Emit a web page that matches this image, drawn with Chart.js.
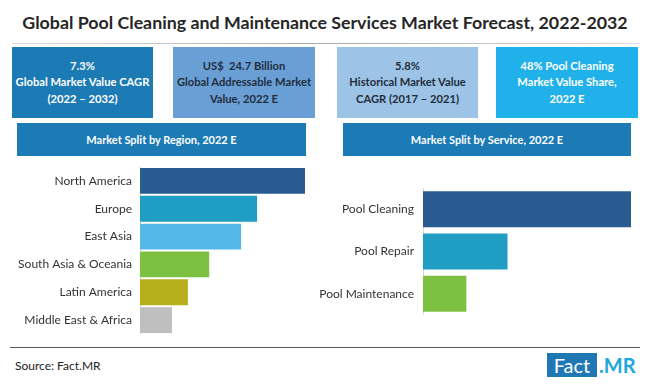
<!DOCTYPE html>
<html>
<head>
<meta charset="utf-8">
<script src="https://cdn.jsdelivr.net/npm/chart.js@4.4.0/dist/chart.umd.min.js"></script>
<style>
  body { margin: 0; width: 650px; height: 385px; background: #fff; position: relative; overflow: hidden; font-family: Lato, "Open Sans", sans-serif; }
  .abs { position: absolute; }
  #title { left: 0; top: 11px; width: 650px; text-align: center; font-size: 17.8px; font-weight: bold; color: #262626; }
  #rule { left: 12px; top: 43px; width: 628px; height: 1px; background: linear-gradient(to right, #ddd, #aaa 50%, #ddd); }
  .box { top: 47px; height: 71px; color: #fff; font-weight: bold; font-size: 11.2px; line-height: 16.5px; display: flex; align-items: center; justify-content: center; text-align: center; }
  .head { top: 123px; height: 33px; background: #1c7ab5; color: #fff; font-weight: bold; font-size: 11px; display: flex; align-items: center; justify-content: center; }
  #foot { left: 10px; top: 347px; width: 630px; height: 1px; background: #555; }
  #src { left: 15px; top: 358px; font-size: 12px; color: #222; }
  #logo1 { left: 547px; top: 353px; width: 50px; height: 24px; background: #1f78b4; color: #fff; font-size: 20px; line-height: 24px; text-align: center; }
  #logo2 { left: 599px; top: 353px; height: 24px; color: #22a6df; font-size: 20px; font-weight: bold; line-height: 24px; }
</style>
</head>
<body>
<div id="title" class="abs">Global Pool Cleaning and Maintenance Services Market Forecast, 2022-2032</div>
<div id="rule" class="abs"></div>

<div class="abs box" style="left:12px;width:141px;background:#1c7ab5;">7.3%<br>Global Market Value CAGR<br>(2022 – 2032)</div>
<div class="abs box" style="left:173px;width:142px;background:#6a9fd5;color:#1f2d3d;">US$&nbsp; 24.7 Billion<br>Global Addressable Market<br>Value, 2022 E</div>
<div class="abs box" style="left:337px;width:141px;background:#9dc3e6;color:#1f2d3d;">5.8%<br>Historical Market Value<br>CAGR (2017 – 2021)</div>
<div class="abs box" style="left:496px;width:142px;background:#21b1ea;">48% Pool Cleaning<br>Market Value Share,<br>2022 E</div>

<div class="abs head" style="left:17px;width:289px;">Market Split by Region, 2022 E</div>
<div class="abs head" style="left:343px;width:288px;">Market Split by Service, 2022 E</div>

<div class="abs" style="left:10px;top:167px;width:295px;height:167px;"><canvas id="regionChart"></canvas></div>
<div class="abs" style="left:310px;top:188px;width:321px;height:127px;"><canvas id="serviceChart"></canvas></div>

<div id="foot" class="abs"></div>
<div id="src" class="abs">Source: Fact.MR</div>
<div id="logo1" class="abs">Fact</div>
<div id="logo2" class="abs">.MR</div>

<script>
// market share, %
var regions = ["North America", "Europe", "East Asia", "South Asia & Oceania", "Latin America", "Middle East & Africa"];
var regionShare = [31, 22, 19, 13, 9, 6];
var regionColors = ["#285c91", "#209dc2", "#55b8e6", "#7dc143", "#b7b01e", "#bfbfbf"];

var services = ["Pool Cleaning", "Pool Repair", "Pool Maintenance"];
var serviceShare = [48, 19.5, 10];
var serviceColors = ["#285c91", "#209dc2", "#7dc143"];

function barOptions(maxVal, axisWidth, pad) {
  return {
    indexAxis: 'y',
    responsive: true,
    maintainAspectRatio: false,
    animation: false,
    layout: { padding: 0 },
    plugins: { legend: { display: false }, tooltip: { enabled: false } },
    scales: {
      x: { display: false, min: 0, max: maxVal },
      y: {
        afterFit: function(scale) {
          scale.width = axisWidth;
          // labels sit inside the bands, no extra top/bottom room needed
          scale.paddingTop = 0;
          scale.paddingBottom = 0;
        },
        grid: { display: false, drawTicks: false },
        border: { display: true, color: '#d9d9d9', width: 1 },
        ticks: { padding: pad, color: '#333', font: { family: 'Lato', size: 12 } }
      }
    }
  };
}

new Chart(document.getElementById('regionChart'), {
  type: 'bar',
  data: {
    labels: regions,
    datasets: [{ data: regionShare, backgroundColor: regionColors, barPercentage: 0.93, categoryPercentage: 1 }]
  },
  options: barOptions(31, 130, 8)
});

new Chart(document.getElementById('serviceChart'), {
  type: 'bar',
  data: {
    labels: services,
    datasets: [{ data: serviceShare, backgroundColor: serviceColors, barPercentage: 0.85, categoryPercentage: 1 }]
  },
  options: barOptions(48, 113, 9)
});
</script>
</body>
</html>
